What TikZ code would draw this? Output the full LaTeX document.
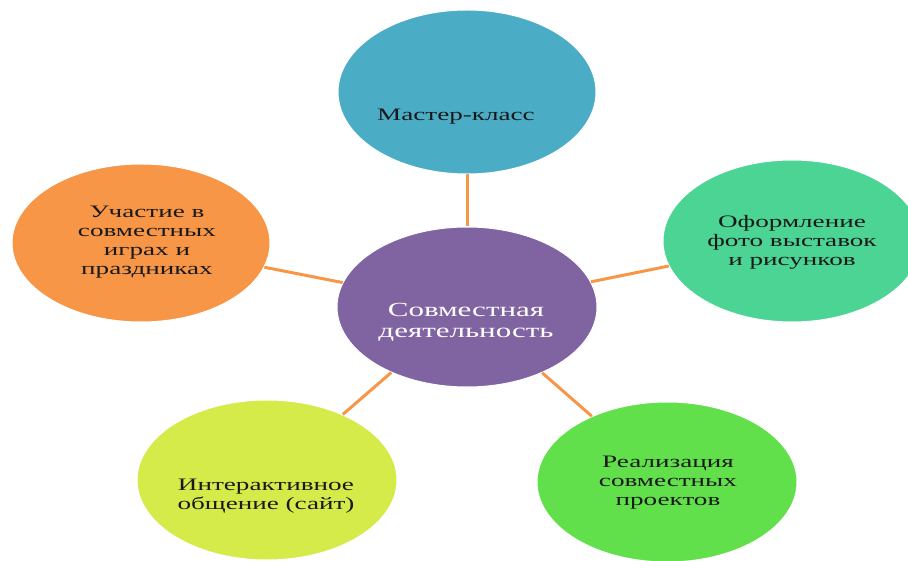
\documentclass[tikz,border=0pt]{standalone}
\usepackage{fontspec}
\setmainfont{Liberation Serif}[FakeStretch=1.55]
\usetikzlibrary{shapes.geometric}
\definecolor{topc}{HTML}{4BACC6}
\definecolor{cenc}{HTML}{8064A2}
\definecolor{rightc}{HTML}{4BD494}
\definecolor{leftc}{HTML}{F79646}
\definecolor{blc}{HTML}{D4EB4A}
\definecolor{brc}{HTML}{62E04C}
\definecolor{linec}{HTML}{F79646}
\tikzset{
  bubble/.style={ellipse, minimum width=258pt, minimum height=162pt, inner sep=0pt, draw=white, line width=1pt},
  txt/.style={align=center, font=\fontsize{17.5pt}{19pt}\selectfont, text=black!90},
  ctxt/.style={align=center, font=\fontsize{20pt}{21pt}\selectfont, text=white},
  conn/.style={draw=linec, line width=3pt}
}
\begin{document}
\begin{tikzpicture}[x=1pt,y=-1pt]
\useasboundingbox (0,0) rectangle (908,561);
\clip (0,0) rectangle (908,561);
\node[bubble, fill=cenc, minimum width=260pt, minimum height=160pt] (cen) at (467,307) {};
\node[bubble, fill=topc, minimum height=164pt] (top) at (467,92) {};
\node[bubble, fill=leftc, minimum height=158pt] (left) at (141,243) {};
\node[bubble, fill=rightc] (right) at (792,241) {};
\node[bubble, fill=blc, minimum width=260pt, minimum height=160pt] (bl) at (267,480) {};
\node[bubble, fill=brc, minimum width=260pt, minimum height=160pt] (br) at (667,482) {};
\node[ctxt] (centext) at (466,322) {Совместная\\деятельность};
\node[txt] (toptext) at (456,117) {Мастер-класс};
\node[txt] (lefttext) at (147,242) {Участие в\\совместных\\играх и\\праздниках};
\node[txt] (righttext) at (792,242) {Оформление\\фото выставок\\и рисунков};
\node[txt] (bltext) at (266,496) {Интерактивное\\общение (сайт)};
\node[txt] (brtext) at (668,483) {Реализация\\совместных\\проектов};
\draw[conn] (cen) -- (top);
\draw[conn] (cen) -- (left);
\draw[conn] (cen) -- (right);
\draw[conn] (cen) -- (bl);
\draw[conn] (cen) -- (br);
\end{tikzpicture}
\end{document}
